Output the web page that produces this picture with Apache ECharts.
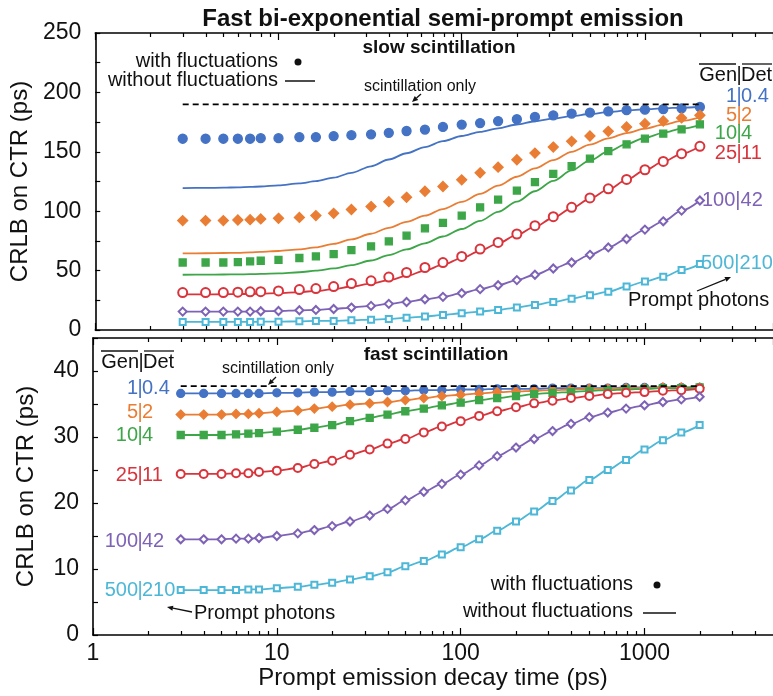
<!DOCTYPE html>
<html>
<head>
<meta charset="utf-8">
<title>Fast bi-exponential semi-prompt emission</title>
<script src="https://cdn.jsdelivr.net/npm/echarts@6/dist/echarts.min.js"></script>
<style>
  html, body { margin: 0; padding: 0; background: #fff; }
  #chart { width: 773px; height: 696px; }
</style>
</head>
<body>
<div id="chart"></div>
<script>
// prompt emission decay times (ps), shared by every curve
var decayTimes = [3, 4, 5, 6, 7, 8, 10, 13, 16, 20, 25, 32, 40, 50, 63, 79, 100, 126, 158, 200,
  251, 316, 398, 501, 631, 794, 1000, 1259, 1585, 1995];
var xTickLabels = [1, 10, 100, 1000];
var xMinorTicks = [2, 3, 4, 5, 6, 7, 8, 9, 20, 30, 40, 50, 60, 70, 80, 90,
  200, 300, 400, 500, 600, 700, 800, 900, 2000, 3000, 4000];
var yTicksSlow = [0, 50, 100, 150, 200, 250];
var yTicksFast = [0, 10, 20, 30, 40];

// scintillation only level
var scintSlow = 190;
var scintFast = 37.7;

// slow scintillation: with fluctuations (dots) / without (lines)
var slowBlueDots = [161, 161, 161, 161, 161, 161.5, 161.5, 162.4, 162.4, 163.2, 164, 164.7, 166, 167.5, 168.7, 170.9, 172.9, 174.2, 175.9, 177.4, 179.3, 180.7, 182.2, 183, 184.1, 185, 185.5, 186, 186.6, 187.7];
var slowBlueLine = [119.5, 119.6, 119.8, 120.1, 120.4, 120.8, 121.8, 123.4, 125.3, 128.2, 132.3, 137.8, 143.5, 148.8, 154, 159, 163.3, 166.8, 169.8, 173, 175.7, 178, 180.1, 181.8, 183.4, 184.8, 185.8, 186.6, 187.2, 187.7];
var slowOrangeDots = [92.1, 92.1, 92.1, 92.6, 92.9, 93.5, 94, 94.8, 96.3, 98.2, 101.4, 103.9, 108, 111.7, 116.8, 120.8, 126.4, 132.3, 137.1, 143.3, 148.9, 154, 158.8, 163.3, 167.2, 170.9, 173.7, 175.9, 178.5, 180.7];
var slowOrangeLine = [64.5, 64.6, 64.8, 65, 65.3, 65.7, 66.5, 67.8, 69.5, 72.5, 76.3, 81, 86, 91, 96.3, 101.8, 107.8, 114.5, 121.5, 129, 136, 143, 150, 156, 161.3, 165.8, 169.5, 172.8, 176, 179];
var slowGreenDots = [56.8, 56.8, 56.8, 57.2, 57.7, 58.3, 59.1, 60.6, 61.9, 63.9, 67.3, 70.4, 74.6, 79.4, 85.6, 90.1, 96.3, 103.3, 109.8, 117.4, 124.4, 131.5, 137.9, 144.2, 150.6, 156.3, 161.1, 165.3, 168.9, 173.1];
var slowGreenLine = [46.5, 46.6, 46.7, 46.8, 47, 47.2, 47.7, 48.6, 49.9, 51.8, 54.6, 58.5, 63, 67.8, 73, 78.7, 85, 91.8, 99.5, 108, 116.8, 125.5, 134.3, 142.8, 150.3, 156.6, 161.8, 166, 169.5, 172.5];
var slowRedDots = [31.5, 31.5, 31.5, 31.8, 32.1, 32.3, 32.9, 34, 34.9, 36.6, 39.1, 41.4, 44.6, 48.4, 52.6, 56.8, 61.9, 68.1, 73.7, 80.8, 87.8, 95.4, 103.3, 111.2, 118.8, 126.7, 134.9, 141.9, 148.4, 154.6];
var slowRedLine = [30, 30, 30.1, 30.2, 30.4, 30.6, 31, 31.9, 32.9, 34.4, 36.6, 39.1, 42, 45.5, 50, 55, 60.5, 66.6, 73, 80, 87, 94.5, 102.5, 110.5, 118.3, 126.3, 134.5, 141.7, 148.3, 154.6];
var slowPurple = [15.5, 15.5, 15.5, 15.5, 15.5, 15.8, 16, 16.6, 16.9, 17.7, 18.9, 20.3, 22, 23.6, 25.9, 27.9, 31, 34.4, 37.7, 42, 46.5, 51.8, 56.8, 63.3, 69.5, 76.6, 84.5, 91.5, 100.5, 109];
var slowCyan = [6.8, 6.8, 6.8, 6.8, 6.8, 7, 7, 7.3, 7.6, 7.6, 8.2, 8.7, 9.3, 10.4, 11.3, 12.7, 14.1, 15.5, 16.9, 18.9, 21.1, 23.6, 26.4, 29.3, 32.3, 36.6, 40.8, 44.8, 50.4, 55.5];

// fast scintillation (dots sit on the lines)
var fastBlue = [36.6, 36.6, 36.6, 36.6, 36.6, 36.6, 36.7, 36.7, 36.8, 36.8, 36.9, 36.9, 37, 37, 37.1, 37.1, 37.2, 37.2, 37.3, 37.3, 37.3, 37.4, 37.4, 37.4, 37.4, 37.5, 37.5, 37.5, 37.5, 37.5];
var fastOrange = [33.4, 33.4, 33.4, 33.5, 33.5, 33.6, 33.8, 34, 34.3, 34.6, 34.9, 35.1, 35.3, 35.6, 35.9, 36.2, 36.4, 36.6, 36.8, 36.9, 37, 37.1, 37.2, 37.3, 37.3, 37.4, 37.4, 37.5, 37.5, 37.5];
var fastGreen = [30.3, 30.3, 30.3, 30.4, 30.5, 30.6, 30.8, 31.1, 31.4, 31.8, 32.4, 32.9, 33.4, 33.9, 34.3, 34.8, 35.2, 35.6, 35.9, 36.2, 36.5, 36.7, 36.8, 37, 37.1, 37.2, 37.3, 37.4, 37.4, 37.5];
var fastRed = [24.4, 24.4, 24.4, 24.5, 24.5, 24.7, 24.9, 25.3, 25.9, 26.4, 27.3, 28.1, 29, 29.7, 30.7, 31.6, 32.4, 33.2, 33.9, 34.5, 35.1, 35.5, 35.9, 36.2, 36.5, 36.7, 36.8, 37, 37.1, 37.3];
var fastPurple = [14.5, 14.5, 14.5, 14.6, 14.6, 14.7, 15, 15.4, 15.9, 16.5, 17.2, 18.1, 19.1, 20.4, 21.7, 22.9, 24.3, 25.7, 27.1, 28.4, 29.7, 30.9, 32, 33, 33.7, 34.3, 34.8, 35.3, 35.7, 36.1];
var fastCyan = [6.8, 6.8, 6.8, 6.8, 6.9, 6.9, 7.1, 7.3, 7.6, 7.9, 8.4, 8.9, 9.5, 10.4, 11.2, 12.2, 13.3, 14.5, 15.8, 17.2, 18.7, 20.3, 21.9, 23.5, 25, 26.5, 28.1, 29.5, 30.7, 31.8];

var FONT = '"Liberation Sans", Arial, Helvetica, sans-serif';
var C = {
  blue: '#4472c4', orange: '#ea7d34', green: '#3da648',
  red: '#d9343c', purple: '#7d62b6', cyan: '#4cb7d6', ink: '#111'
};

function pairs(vals) {
  return decayTimes.map(function (t, i) { return [t, vals[i]]; });
}

function dots(vals, color, symbol, size, axis) {
  return {
    type: 'scatter', xAxisIndex: axis, yAxisIndex: axis, data: pairs(vals),
    symbol: symbol, symbolSize: size, silent: true, z: 4,
    itemStyle: { color: color, borderColor: color, borderWidth: 1.3, opacity: 1 }
  };
}

function curve(vals, color, axis, symbol, size) {
  return {
    type: 'line', xAxisIndex: axis, yAxisIndex: axis, data: pairs(vals),
    smooth: 0.3, smoothMonotone: 'x', silent: true, z: 3,
    symbol: symbol || 'none', symbolSize: size || 0,
    showSymbol: !!symbol, showAllSymbol: true,
    lineStyle: { color: color, width: 1.8 },
    itemStyle: { color: color, borderColor: color, borderWidth: 1.3 }
  };
}

function dashed(level, axis) {
  var last = decayTimes.length - 1;
  return {
    type: 'line', xAxisIndex: axis, yAxisIndex: axis, symbol: 'none', silent: true, z: 6,
    data: [[decayTimes[0], level], [decayTimes[last], level]],
    lineStyle: { color: '#000', width: 1.8, type: [6, 4] }
  };
}

// minor ticks of the log axis, drawn on both the bottom and top edges of a grid
function minorTicks(axis) {
  return {
    type: 'custom', xAxisIndex: axis, yAxisIndex: axis, silent: true, z: 10,
    data: xMinorTicks.map(function (v) { return [v, 1]; }),
    renderItem: function (params, api) {
      var cs = params.coordSys;
      var x = Math.round(api.coord([api.value(0), 1])[0]) + 0.5;
      var st = { stroke: '#000', lineWidth: 1.2 };
      return {
        type: 'group', children: [
          { type: 'line', shape: { x1: x, y1: cs.y, x2: x, y2: cs.y + 4 }, style: st },
          { type: 'line', shape: { x1: x, y1: cs.y + cs.height, x2: x, y2: cs.y + cs.height - 4 }, style: st }
        ]
      };
    }
  };
}

function xAxis(grid, pos, labels) {
  return {
    type: 'log', logBase: 10, min: 1, max: 5000, gridIndex: grid, position: pos,
    axisLine: { show: true, lineStyle: { color: '#000', width: 1.6 } },
    axisTick: { show: true, inside: true, length: 7, lineStyle: { color: '#000', width: 1.2 } },
    splitLine: { show: false },
    axisLabel: {
      show: labels, margin: 7, color: '#111', fontSize: 23, fontFamily: FONT,
      showMaxLabel: false,
      formatter: function (v) {
        var r = Math.round(v);
        return xTickLabels.indexOf(r) >= 0 ? String(r) : '';
      }
    },
    name: labels ? 'Prompt emission decay time (ps)' : '',
    nameLocation: 'middle', nameGap: 30,
    nameTextStyle: { color: '#111', fontSize: 24, fontFamily: FONT }
  };
}

function yAxis(grid, max, step, ticks) {
  return {
    type: 'value', gridIndex: grid, min: 0, max: max, interval: step,
    axisLine: { show: true, lineStyle: { color: '#000', width: 1.6 } },
    axisTick: { show: true, inside: true, length: 5, lineStyle: { color: '#000', width: 1.2 } },
    splitLine: { show: false },
    axisLabel: {
      margin: 14, color: '#111', fontSize: 23, fontFamily: FONT,
      formatter: function (v) { return ticks.indexOf(v) >= 0 ? String(v) : ''; }
    },
    name: 'CRLB on CTR (ps)', nameLocation: 'middle', nameGap: 55,
    nameTextStyle: { color: '#111', fontSize: 24, fontFamily: FONT }
  };
}

// ---- annotation helpers (text, arrows) ----
function txt(s, x, y, o) {
  o = o || {};
  return {
    type: 'text', x: x, y: y, silent: true, z: 100,
    style: {
      text: s, fill: o.color || C.ink, fontSize: o.size || 20, fontFamily: FONT,
      fontWeight: o.weight || 'normal', align: o.align || 'left', verticalAlign: 'middle'
    }
  };
}
function seg(x1, y1, x2, y2, w, color) {
  return {
    type: 'line', silent: true, z: 100,
    shape: { x1: x1, y1: y1, x2: x2, y2: y2 },
    style: { stroke: color || C.ink, lineWidth: w || 1.3 }
  };
}
function arrow(x1, y1, x2, y2) {
  var a = Math.atan2(y2 - y1, x2 - x1), h = 6, w = 2.6;
  var bx = x2 - h * Math.cos(a), by = y2 - h * Math.sin(a);
  return [
    seg(x1, y1, bx, by, 1.3),
    {
      type: 'polygon', silent: true, z: 100,
      shape: { points: [[x2, y2], [bx - w * Math.sin(a), by + w * Math.cos(a)], [bx + w * Math.sin(a), by - w * Math.cos(a)]] },
      style: { fill: C.ink }
    }
  ];
}
function pipeLabel(left, right, px, y, color) {
  return [
    txt(left, px - 2, y, { color: color, align: 'right' }),
    txt('|', px, y, { color: color, align: 'center' }),
    txt(right, px + 2, y, { color: color, align: 'left' })
  ];
}
function genDet(px, y) {
  return pipeLabel('Gen', 'Det', px, y, C.ink).concat([
    seg(px - 40, y - 11, px - 3, y - 11, 1.3),
    seg(px + 3, y - 11, px + 33, y - 11, 1.3)
  ]);
}

var graphics = [].concat(
  // top panel
  [txt('slow scintillation', 439, 48, { size: 19, weight: 'bold', align: 'center' })],
  [txt('with fluctuations', 278, 61, { size: 20, align: 'right' })],
  [{ type: 'circle', silent: true, z: 100, shape: { cx: 298, cy: 62, r: 3.5 }, style: { fill: C.ink } }],
  [txt('without fluctuations', 278, 80, { size: 20, align: 'right' }), seg(285, 81, 315, 81, 1.5)],
  [txt('scintillation only', 420, 87, { size: 16, align: 'center' })],
  arrow(421, 94, 412, 102),
  genDet(739, 75),
  pipeLabel('1', '0.4', 739, 96, C.blue),
  pipeLabel('5', '2', 739, 115, C.orange),
  pipeLabel('10', '4', 739, 133, C.green),
  pipeLabel('25', '11', 739, 153, C.red),
  [txt('100|42', 702, 200, { color: C.purple })],
  [txt('500|210', 701, 263, { color: C.cyan })],
  [txt('Prompt photons', 628, 300)],
  arrow(697, 291, 731, 277),
  // bottom panel
  [txt('fast scintillation', 436, 355, { size: 19, weight: 'bold', align: 'center' })],
  genDet(141, 362),
  [txt('scintillation only', 278, 369, { size: 16, align: 'center' })],
  arrow(276, 377, 268, 385),
  pipeLabel('1', '0.4', 140, 388, C.blue),
  pipeLabel('5', '2', 140, 412, C.orange),
  pipeLabel('10', '4', 140, 435, C.green),
  pipeLabel('25', '11', 140, 475, C.red),
  pipeLabel('100', '42', 140, 541, C.purple),
  pipeLabel('500', '210', 140, 590, C.cyan),
  [txt('Prompt photons', 194, 613)],
  arrow(192, 612, 167, 607),
  [txt('with fluctuations', 633, 584, { size: 20, align: 'right' })],
  [{ type: 'circle', silent: true, z: 100, shape: { cx: 657, cy: 585, r: 3.5 }, style: { fill: C.ink } }],
  [txt('without fluctuations', 633, 611, { size: 20, align: 'right' }), seg(643, 613, 676, 613, 1.5)]
);

var option = {
  animation: false,
  backgroundColor: '#fff',
  title: {
    text: 'Fast bi-exponential semi-prompt emission',
    left: 438, top: 2, textAlign: 'center',
    textStyle: { color: '#111', fontSize: 24, fontWeight: 'bold', fontFamily: FONT }
  },
  grid: [
    { left: 93, top: 33, right: 0, height: 297 },
    { left: 93, top: 338, right: 0, height: 297 }
  ],
  xAxis: [xAxis(0, 'bottom', false), xAxis(1, 'bottom', true), xAxis(0, 'top', false), xAxis(1, 'top', false)],
  yAxis: [yAxis(0, 250, 25, yTicksSlow), yAxis(1, 45, 5, yTicksFast)],
  series: [
    minorTicks(0), minorTicks(1),
    // slow scintillation
    curve(slowBlueLine, C.blue, 0),
    curve(slowOrangeLine, C.orange, 0),
    curve(slowGreenLine, C.green, 0),
    curve(slowRedLine, C.red, 0),
    curve(slowPurple, C.purple, 0, 'emptyDiamond', 8),
    curve(slowCyan, C.cyan, 0, 'emptyRect', 6),
    dots(slowBlueDots, C.blue, 'circle', 9, 0),
    dots(slowOrangeDots, C.orange, 'diamond', 10, 0),
    dots(slowGreenDots, C.green, 'rect', 7, 0),
    dots(slowRedDots, C.red, 'emptyCircle', 9, 0),
    dashed(scintSlow, 0),
    // fast scintillation
    curve(fastBlue, C.blue, 1, 'circle', 8),
    curve(fastOrange, C.orange, 1, 'diamond', 9),
    curve(fastGreen, C.green, 1, 'rect', 7),
    curve(fastRed, C.red, 1, 'emptyCircle', 8),
    curve(fastPurple, C.purple, 1, 'emptyDiamond', 8),
    curve(fastCyan, C.cyan, 1, 'emptyRect', 6),
    dashed(scintFast, 1)
  ],
  graphic: graphics
};

var chart = echarts.init(document.getElementById('chart'));
chart.setOption(option);
</script>
</body>
</html>
